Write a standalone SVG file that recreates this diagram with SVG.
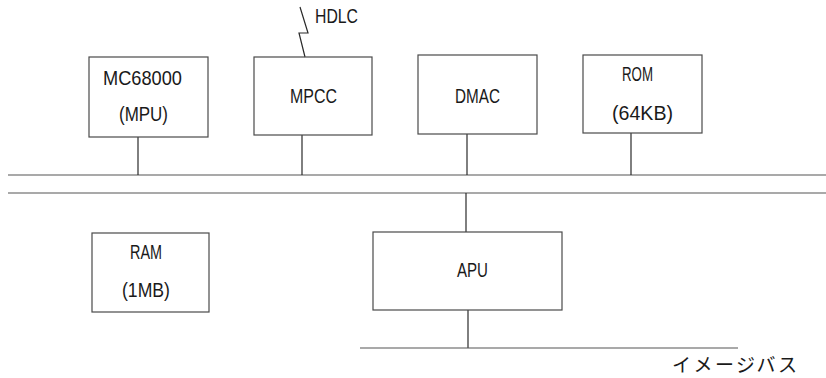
<svg xmlns="http://www.w3.org/2000/svg" width="826" height="378" viewBox="0 0 826 378">
<style>
.box{fill:none;stroke:#4a4a4a;stroke-width:1.2}
.ln{fill:none;stroke:#2a2a2a;stroke-width:1.2}
.bus{fill:none;stroke:#555;stroke-width:1.2}
.t{font-family:"Liberation Sans",Arial,sans-serif;font-size:21px;fill:#1a1a1a}
.jp{font-family:"Noto Sans CJK JP",sans-serif;font-size:19px;fill:#1a1a1a}
</style>
<rect width="826" height="378" fill="#fff"/>
<g id="connectors">
<line class="bus" x1="8" y1="175" x2="826" y2="175"/>
<line class="bus" x1="8" y1="193" x2="826" y2="193"/>
<line class="ln" x1="138" y1="137" x2="138" y2="175"/>
<line class="ln" x1="302" y1="135" x2="302" y2="175"/>
<line class="ln" x1="467" y1="134" x2="467" y2="175"/>
<line class="ln" x1="631" y1="133" x2="631" y2="175"/>
<line class="ln" x1="466" y1="193" x2="466" y2="232"/>
<line class="ln" x1="468" y1="310" x2="468" y2="348"/>
<line class="bus" x1="360" y1="348" x2="738" y2="348"/>
<polyline class="ln" points="300,7 308,33 299,33 305,57"/>
</g>
<g id="hdlc"><text class="t" x="315" y="23" font-size="15" textLength="43" lengthAdjust="spacingAndGlyphs">HDLC</text></g>
<g id="mpu">
<rect class="box" x="89" y="57" width="119" height="80"/>
<text class="t" x="103" y="85" textLength="79" lengthAdjust="spacingAndGlyphs">MC68000</text>
<text class="t" x="119" y="121" textLength="49" lengthAdjust="spacingAndGlyphs">(MPU)</text>
</g>
<g id="mpcc">
<rect class="box" x="254" y="57" width="118" height="78"/>
<text class="t" x="290" y="103" textLength="47" lengthAdjust="spacingAndGlyphs">MPCC</text>
</g>
<g id="dmac">
<rect class="box" x="418" y="55" width="119" height="79"/>
<text class="t" x="455" y="103" textLength="45" lengthAdjust="spacingAndGlyphs">DMAC</text>
</g>
<g id="rom">
<rect class="box" x="583" y="55" width="119" height="78"/>
<text class="t" x="622" y="81" textLength="31" lengthAdjust="spacingAndGlyphs">ROM</text>
<text class="t" x="612" y="120" textLength="61" lengthAdjust="spacingAndGlyphs">(64KB)</text>
</g>
<g id="ram">
<rect class="box" x="92" y="233" width="117" height="79"/>
<text class="t" x="130" y="259" textLength="32" lengthAdjust="spacingAndGlyphs">RAM</text>
<text class="t" x="122" y="297" textLength="48" lengthAdjust="spacingAndGlyphs">(1MB)</text>
</g>
<g id="apu">
<rect class="box" x="373" y="232" width="189" height="78"/>
<text class="t" x="457" y="277" textLength="31" lengthAdjust="spacingAndGlyphs">APU</text>
</g>
<g id="imagebus-label">
<text class="jp" x="672" y="372" textLength="125" lengthAdjust="spacing">イメージバス</text>
</g>
</svg>
